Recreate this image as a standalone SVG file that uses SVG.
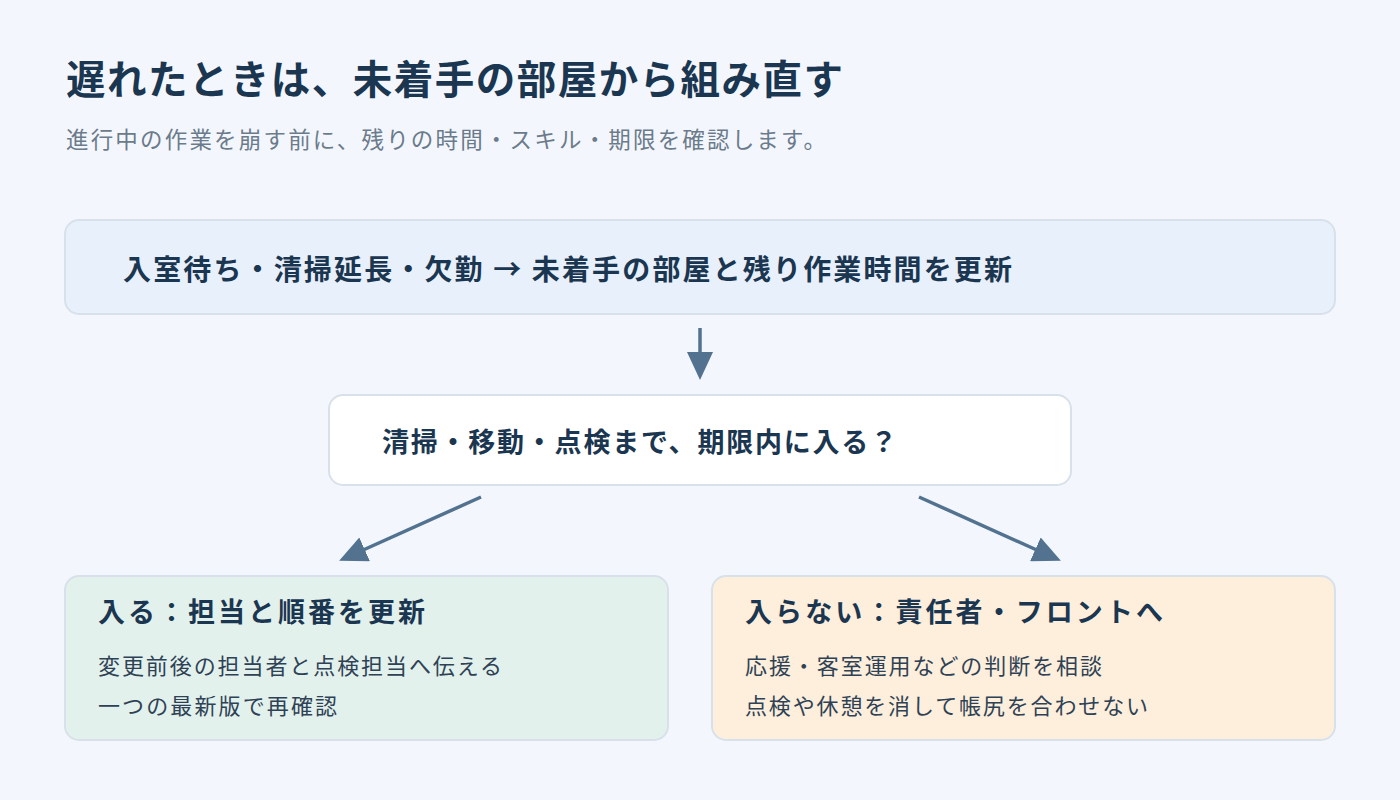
<svg xmlns="http://www.w3.org/2000/svg" width="1400" height="800" viewBox="0 0 1400 800">
<style>
text{font-family:"Noto Sans CJK JP","Noto Sans",sans-serif;fill:#1b3650}
.b{font-weight:700}
.box{stroke:#d8e1ea;stroke-width:2}
.sub{fill:#6c7b8b;font-size:22.5px}
.body{fill:#2f4255;font-size:22px}
.con{stroke:#52728f;stroke-width:3.5;fill:none}
</style>
<defs>
<marker id="a" markerWidth="28" markerHeight="26" refX="4" refY="13" orient="auto" markerUnits="userSpaceOnUse"><path d="M0,0 L28,13 L0,26 z" fill="#52728f"/></marker></defs>
<rect width="1400" height="800" fill="#f3f7fd"/>
<text class="b" x="66" y="94" font-size="39.5" textLength="777" lengthAdjust="spacing">遅れたときは、未着手の部屋から組み直す</text>
<text class="sub" x="66" y="148" textLength="760" lengthAdjust="spacing">進行中の作業を崩す前に、残りの時間・スキル・期限を確認します。</text>
<g id="connectors">
<line class="con" x1="700" y1="328" x2="700" y2="356" marker-end="url(#a)"/>
<line class="con" x1="481" y1="497" x2="361" y2="551" marker-end="url(#a)"/>
<line class="con" x1="919" y1="497" x2="1039" y2="551" marker-end="url(#a)"/>
</g>
<g id="n1"><rect class="box" x="65" y="220" width="1270" height="94" rx="14" fill="#e8f0fb"/>
<text class="b" x="123" y="280" font-size="28" textLength="889" lengthAdjust="spacing">入室待ち・清掃延長・欠勤 → 未着手の部屋と残り作業時間を更新</text></g>
<g id="n2"><rect class="box" x="329" y="395" width="742" height="90" rx="14" fill="#ffffff"/>
<text class="b" x="382" y="452" font-size="27" textLength="515" lengthAdjust="spacing">清掃・移動・点検まで、期限内に入る？</text></g>
<g id="n3"><rect class="box" x="65" y="576" width="603" height="164" rx="14" fill="#e3f1ec"/>
<text class="b" x="98" y="622" font-size="27" textLength="327" lengthAdjust="spacing">入る：担当と順番を更新</text>
<text class="body" x="98" y="674" textLength="404" lengthAdjust="spacing">変更前後の担当者と点検担当へ伝える</text>
<text class="body" x="98" y="714" textLength="239" lengthAdjust="spacing">一つの最新版で再確認</text></g>
<g id="n4"><rect class="box" x="712" y="576" width="623" height="164" rx="14" fill="#fdefdc"/>
<text class="b" x="745" y="622" font-size="27" textLength="418" lengthAdjust="spacing">入らない：責任者・フロントへ</text>
<text class="body" x="745" y="674" textLength="357" lengthAdjust="spacing">応援・客室運用などの判断を相談</text>
<text class="body" x="745" y="714" textLength="403" lengthAdjust="spacing">点検や休憩を消して帳尻を合わせない</text></g>
</svg>
